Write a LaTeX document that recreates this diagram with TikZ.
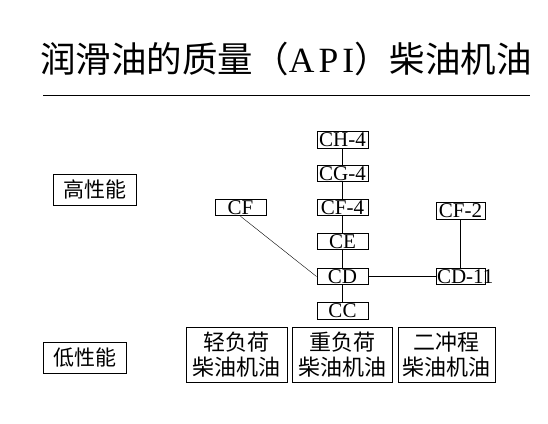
\documentclass[tikz,border=0pt]{standalone}
\usepackage{fontspec}
\setmainfont{Liberation Serif}
\newfontfamily\cjk{Noto Sans CJK SC}

\begin{document}
\begin{tikzpicture}[x=1pt, y=-1pt,
    grade/.style={draw, line width=1pt, inner sep=0pt, minimum width=51pt, minimum height=16.5pt, font=\fontsize{21}{21}\selectfont},
    kind/.style={draw, line width=1pt, inner sep=0pt, minimum height=55pt, align=center, font=\cjk\fontsize{22}{25}\selectfont},
    level/.style={draw, line width=1pt, inner sep=0pt, minimum width=83pt, minimum height=31pt, font=\cjk\fontsize{21}{21}\selectfont}]
    \useasboundingbox (0,0) rectangle (548,423);

    \node (title) at (286, 59) {\fontsize{35.5}{36}\selectfont{\cjk 润滑油的质量（}A\kern4pt P\kern4pt I{\cjk ）柴油机油}};
    \coordinate (ruleL) at (43, 95);
    \coordinate (ruleR) at (530, 95);
    \draw[line width=1pt] (ruleL) -- (ruleR);

    \node[level] (high) at (94.5, 189.5) {高性能};
    \node[level] (low) at (84.5, 357.5) {低性能};

    \node[grade] (ch4) at (342.5, 140) {CH-4};
    \node[grade] (cg4) at (342.5, 173.5) {CG-4};
    \node[grade] (cf4) at (342.5, 207.5) {CF-4};
    \node[grade] (ce) at (342.5, 241.5) {CE};
    \node[grade] (cd) at (342.5, 276.5) {CD};
    \node[grade] (cc) at (342.5, 311) {CC};
    \node[grade] (cf) at (240.5, 207.5) {CF};
    \node[grade, minimum width=49pt] (cf2) at (460.5, 211) {CF-2};
    \node[grade, minimum width=49pt] (cd11) at (460.5, 276.5) {\makebox[47pt][l]{CD-11}};

    \node[kind, minimum width=101pt] (light) at (236.5, 354.5) {轻负荷\\柴油机油};
    \node[kind, minimum width=100pt] (heavy) at (342, 354.5) {重负荷\\柴油机油};
    \node[kind, minimum width=97pt] (stroke) at (446.5, 354.5) {二冲程\\柴油机油};

    % 连线
    \draw (ch4) -- (cg4);
    \draw (cg4) -- (cf4);
    \draw (cf4) -- (ce);
    \draw (ce) -- (cd);
    \draw (cd) -- (cc);
    \draw (cf.south) -- (cd.west);
    \draw (cd) -- (cd11);
    \draw (cf2) -- (cd11);
\end{tikzpicture}
\end{document}
